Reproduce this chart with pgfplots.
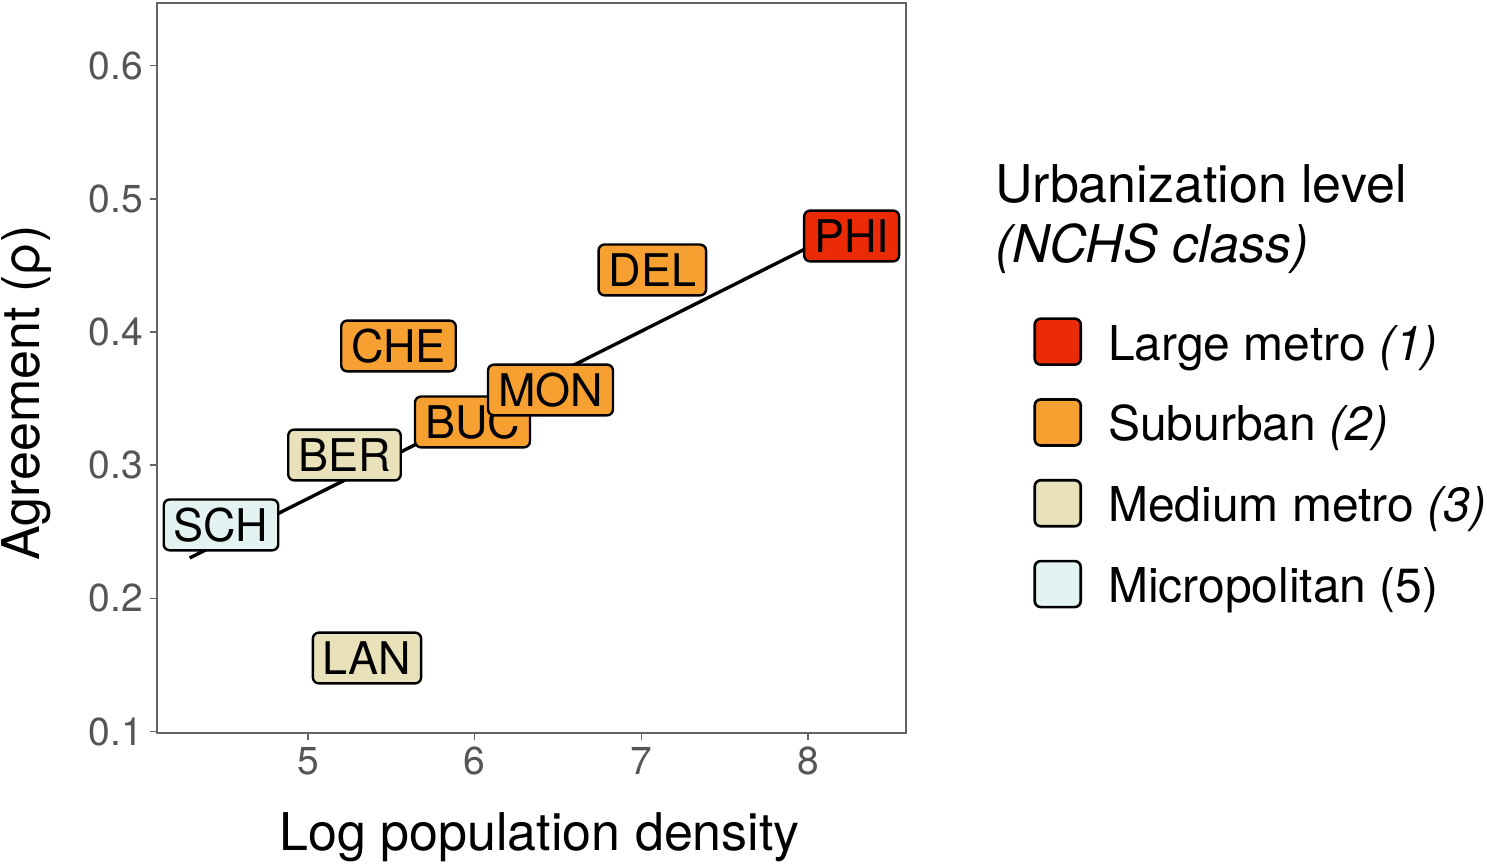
\documentclass[border=0pt]{standalone}
\usepackage{pgfplots}
\pgfplotsset{compat=1.18}
\usepackage{pgfplotstable}
\usepackage{fontspec}
\setmainfont{TeX Gyre Heros}
\definecolor{clarge}{RGB}{235,42,6}
\definecolor{csub}{RGB}{246,160,50}
\definecolor{cmed}{RGB}{232,225,186}
\definecolor{cmic}{RGB}{226,243,241}
\definecolor{tickgray}{RGB}{85,85,85}
\definecolor{framegray}{RGB}{100,100,100}

\pgfplotstableread{
x y label
4.478 0.2552 SCH
}\tmic
\pgfplotstableread{
x y label
5.219 0.3077 BER
5.354 0.1553 LAN
}\tmed
\pgfplotstableread{
x y label
5.543 0.3895 CHE
5.987 0.3325 BUC
6.455 0.3565 MON
7.066 0.4466 DEL
}\tsub
\pgfplotstableread{
x y label
8.262 0.4721 PHI
}\tlarge

\tikzset{lbl/.style={draw=black, line width=1.2pt, rounded corners=3pt,
  font=\fontsize{22.5}{24}\selectfont, text=black, inner xsep=5pt, inner ysep=4.6pt,
  text height=16.2pt, text depth=0pt, anchor=center}}
\newcommand{\swatch}[1]{\draw[draw=black, line width=1.3pt, fill=#1, rounded corners=3pt] (0pt,-9.5pt) rectangle (23pt,13.5pt);}

\begin{document}
\begin{tikzpicture}
\useasboundingbox (-78.5pt,-67pt) rectangle (665pt,366.5pt);
\begin{axis}[
  at={(0pt,0pt)}, anchor=south west,
  scale only axis, width=374.5pt, height=365pt,
  xmin=4.094, xmax=8.588, ymin=0.099, ymax=0.647,
  xtick={5,6,7,8}, ytick={0.1,0.2,0.3,0.4,0.5,0.6},
  tick align=outside, major tick length=3.5pt,
  tick pos=left,
  tick style={framegray, line width=0.8pt},
  axis line style={framegray, line width=0.8pt},
  /pgf/number format/assume math mode=true,
  yticklabel style={/pgf/number format/.cd, fixed, fixed zerofill, precision=1, /tikz/.cd,
     font=\fontsize{19.5}{22}\selectfont, text=tickgray},
  xticklabel style={font=\fontsize{19.5}{22}\selectfont, text=tickgray},
  xlabel={Log population density},
  xlabel style={at={(axis description cs:0.511,-0.1603)}, anchor=base, inner sep=0pt,
     font=\fontsize{26}{30}\selectfont},
  ylabel={Agreement (ρ)},
  ylabel style={at={(axis description cs:-0.1570,0.466)}, anchor=base, inner sep=0pt,
     font=\fontsize{26}{30}\selectfont},
  legend style={draw=none, fill=none, at={(axis description cs:1.1696,0.5699)}, anchor=north west,
     font=\fontsize{24}{28}\selectfont, inner sep=0pt, row sep=13pt,
     nodes={inner sep=0pt, text height=20.5pt, text depth=6pt},
     /tikz/every odd column/.append style={column sep=13pt}},
  legend cell align=left,
  reverse legend,
  nodes near coords align={center},
]
\addplot[black, line width=1.7pt, forget plot] coordinates {(4.29,0.2304) (8.262,0.4799)};
\addplot[draw=none, mark=none, nodes near coords, point meta=explicit symbolic,
  nodes near coords style={lbl, fill=cmic},
  legend image code/.code={\swatch{cmic}}] table[x=x,y=y,meta=label] {\tmic};
\addlegendentry{Micropolitan (5)}
\addplot[draw=none, mark=none, nodes near coords, point meta=explicit symbolic,
  nodes near coords style={lbl, fill=cmed},
  legend image code/.code={\swatch{cmed}}] table[x=x,y=y,meta=label] {\tmed};
\addlegendentry{Medium metro \textit{(3)}}
\addplot[draw=none, mark=none, nodes near coords, point meta=explicit symbolic,
  nodes near coords style={lbl, fill=csub},
  legend image code/.code={\swatch{csub}}] table[x=x,y=y,meta=label] {\tsub};
\addlegendentry{Suburban \textit{(2)}}
\addplot[draw=none, mark=none, nodes near coords, point meta=explicit symbolic,
  nodes near coords style={lbl, fill=clarge},
  legend image code/.code={\swatch{clarge}}] table[x=x,y=y,meta=label] {\tlarge};
\addlegendentry{Large metro \textit{(1)}}
\end{axis}
\node[anchor=base west, inner sep=0pt, font=\fontsize{26}{30}\selectfont] at (419pt,265pt) {Urbanization level};
\node[anchor=base west, inner sep=0pt, font=\fontsize{26}{30}\selectfont\itshape] at (419pt,235pt) {(NCHS class)};
\end{tikzpicture}
\end{document}
